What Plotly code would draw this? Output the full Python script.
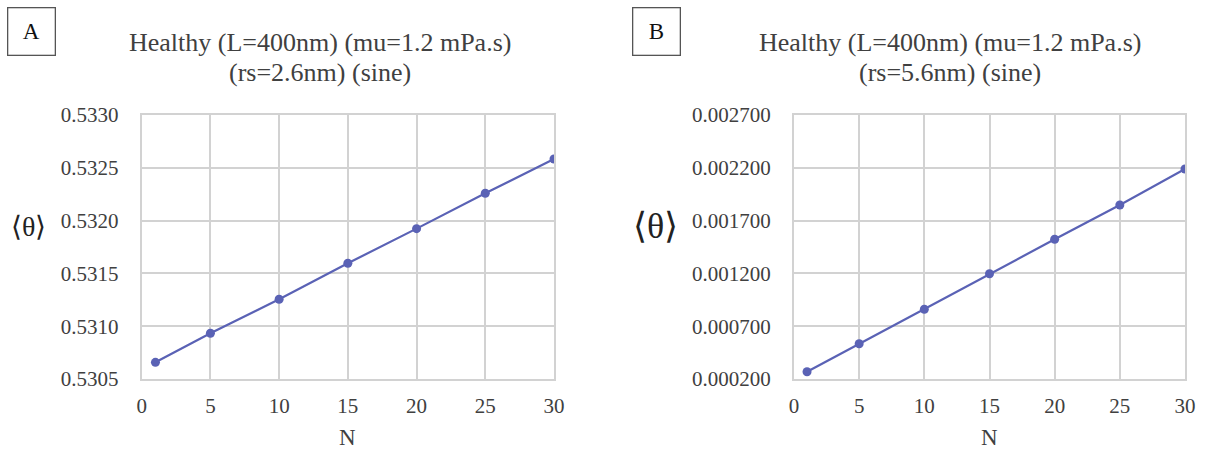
import plotly.graph_objects as go

N = [1, 5, 10, 15, 20, 25, 30]
theta_a = [0.530658, 0.530933, 0.531255, 0.531596, 0.531924, 0.532259, 0.532583]
theta_b = [0.000269, 0.000534, 0.000860, 0.001197, 0.001523, 0.001848, 0.002189]

title_line1 = "Healthy (L=400nm) (mu=1.2 mPa.s)"
title_line2_a = "(rs=2.6nm) (sine)"
title_line2_b = "(rs=5.6nm) (sine)"

W, H = 1205, 453
FONT = "Liberation Serif, Times New Roman, serif"
LINE = "#5a62b5"
GRID = "#d2d2d2"
TXT = "#404040"

fig = go.Figure()
fig.add_trace(go.Scatter(x=N, y=theta_a, mode="lines+markers", xaxis="x", yaxis="y",
                         line=dict(color=LINE, width=2.2), marker=dict(color=LINE, size=9),
                         showlegend=False))
fig.add_trace(go.Scatter(x=N, y=theta_b, mode="lines+markers", xaxis="x2", yaxis="y2",
                         line=dict(color=LINE, width=2.2), marker=dict(color=LINE, size=9),
                         showlegend=False))

def px(x):
    return x / W

def py(y):
    return 1 - y / H

common_x = dict(range=[0, 30], dtick=5, tick0=0, showgrid=True, gridcolor=GRID, gridwidth=2,
                showline=True, linecolor=GRID, linewidth=2, mirror=True, zeroline=False,
                tickfont=dict(family=FONT, size=21, color=TXT), ticklabelstandoff=7,
                automargin=False, fixedrange=True)
common_y = dict(dtick=0.0005, showgrid=True, gridcolor=GRID, gridwidth=2,
                showline=True, linecolor=GRID, linewidth=2, mirror=True, zeroline=False,
                tickfont=dict(family=FONT, size=21, color=TXT), ticklabelstandoff=17,
                automargin=False, fixedrange=True,
                domain=[py(379), py(115)])

fig.update_layout(
    width=W, height=H,
    margin=dict(l=0, r=0, t=0, b=0, pad=0),
    paper_bgcolor="white", plot_bgcolor="white",
    xaxis=dict(domain=[px(141.7), px(554)], anchor="y", **common_x),
    yaxis=dict(range=[0.5305, 0.5330], tick0=0.5305, tickformat=".4f", anchor="x", **common_y),
    xaxis2=dict(domain=[px(794), px(1185)], anchor="y2", **common_x),
    yaxis2=dict(range=[0.0002, 0.0027], tick0=0.0002, tickformat=".6f", anchor="x2", **common_y),
)

ann = []
def text(t, x, y, size, color=TXT):
    ann.append(dict(text=t, x=px(x), y=py(y), xref="paper", yref="paper", showarrow=False,
                    font=dict(family=FONT, size=size, color=color),
                    xanchor="center", yanchor="middle"))

# titles
text(title_line1, 320, 42, 26)
text(title_line2_a, 320, 72, 26)
text(title_line1, 950, 42, 26)
text(title_line2_b, 950, 72, 26)
# x axis titles
text("N", 348, 437, 23)
text("N", 989, 437, 23)
# y axis titles
text("⟨θ⟩", 28, 226, 28, "#222222")
text("⟨θ⟩", 655, 226, 36, "#222222")
# panel letters
for letter, cx in (("A", 31.5), ("B", 656.5)):
    ann.append(dict(text=letter, x=px(cx), y=py(31), xref="paper", yref="paper", showarrow=False,
                    font=dict(family=FONT, size=23, color="#111111"),
                    xanchor="center", yanchor="middle",
                    bordercolor="#555555", borderwidth=1.3, width=44, height=44, borderpad=1,
                    bgcolor="white"))
fig.update_layout(annotations=ann)

fig.write_html("out.html")
